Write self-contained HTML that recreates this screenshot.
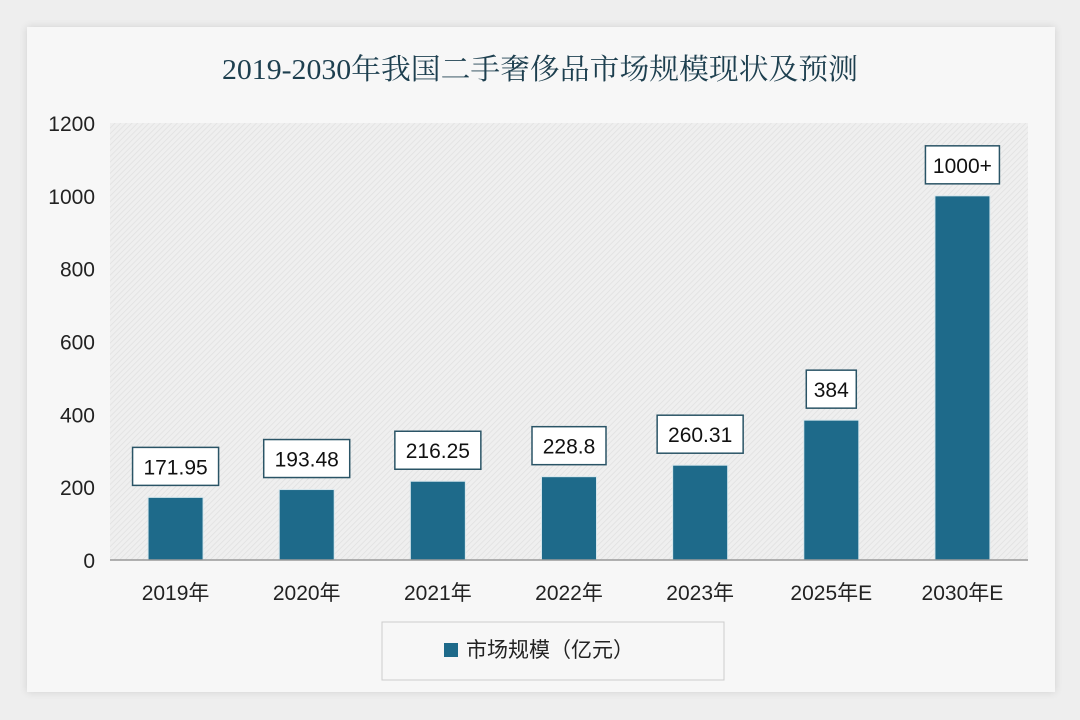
<!DOCTYPE html>
<html><head><meta charset="utf-8"><style>
html,body{margin:0;padding:0;width:1080px;height:720px;background:#eeeeee;overflow:hidden}
body{font-family:"Liberation Sans","Noto Sans CJK SC",sans-serif}
</style></head><body>
<div style="position:absolute;left:27px;top:27px;width:1028px;height:665px;background:#f7f7f7;box-shadow:0 0 8px rgba(0,0,0,0.12)"></div>
<svg id="chart" width="1080" height="720" style="position:absolute;left:0;top:0">
<defs><pattern id="hatch" width="4" height="4" patternUnits="userSpaceOnUse" patternTransform="rotate(45)"><rect width="4" height="4" fill="#efefef"/><line x1="0" y1="0" x2="0" y2="4" stroke="#e0e0e0" stroke-width="1.5"/></pattern></defs>
</svg>
<script>
const categories=["2019年","2020年","2021年","2022年","2023年","2025年E","2030年E"];
const values=[171.95,193.48,216.25,228.8,260.31,384,1000];
const valueLabels=["171.95","193.48","216.25","228.8","260.31","384","1000+"];
const yTicks=[0,200,400,600,800,1000,1200];
const NS="http://www.w3.org/2000/svg";
const svg=document.getElementById('chart');
const L=110,R=1028,T=123,B=560,yMax=1200;
const y=v=>B-(v/yMax)*(B-T);
const step=(R-L)/categories.length;
const x=i=>L+step*(i+0.5);
function mk(tag,attrs,text){const e=document.createElementNS(NS,tag);for(const k in attrs)e.setAttribute(k,attrs[k]);if(text!==undefined)e.textContent=text;svg.appendChild(e);return e;}
let bg=mk('rect',{x:L,y:T,width:R-L,height:B-T,fill:'url(#hatch)'});


let title=mk('text',{x:540,y:79,'text-anchor':'middle','font-size':29,fill:'#1d3f4f','font-family':'"Liberation Serif","Noto Serif CJK SC",serif',textLength:636,lengthAdjust:'spacingAndGlyphs'},'2019-2030年我国二手奢侈品市场规模现状及预测');


yTicks.forEach(t=>{const e=mk('text',{x:95,y:y(t)+8,'text-anchor':'end','font-size':21,fill:'#222'},String(t));

});
const bw=55;
categories.forEach((c,i)=>{
 const cx=x(i),top=y(values[i]);
 const r=mk('rect',{x:cx-bw/2,y:top,width:bw,height:B-top,fill:'#1e6a8a',stroke:'#d6e6ec','stroke-width':1});
 
 
 const lbl=valueLabels[i];const w=lbl.length*12+14;
 const bx=mk('rect',{x:cx-w/2,y:top-50,width:w,height:38,fill:'#fff',stroke:'#2a5466','stroke-width':1.5});
 
 
 const t=mk('text',{x:cx,y:top-23,'text-anchor':'middle','font-size':21,fill:'#111'},lbl);
 
 
 const xl=mk('text',{x:cx,y:600,'text-anchor':'middle','font-size':21,fill:'#222'},c);
 
 
});
let ax=mk('line',{x1:L,y1:B,x2:R,y2:B,stroke:'#999','stroke-width':1.5});


let lb=mk('rect',{x:382,y:622,width:342,height:58,fill:'#f7f7f7',stroke:'#ccc','stroke-width':1});


let ls=mk('rect',{x:444,y:643,width:14,height:14,fill:'#1e6a8a'});


let lt=mk('text',{x:466,y:657,'font-size':21,fill:'#222'},'市场规模（亿元）');


</script>
</body></html>
